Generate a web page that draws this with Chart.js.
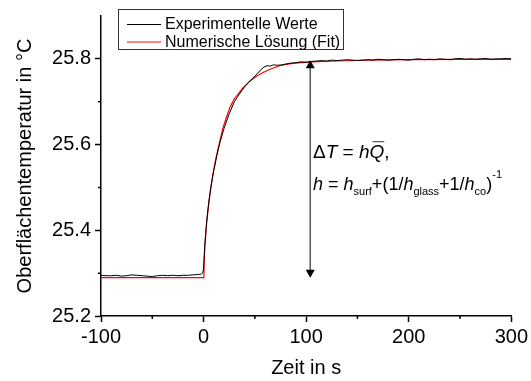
<!DOCTYPE html>
<html>
<head>
<meta charset="utf-8">
<script src="https://cdn.jsdelivr.net/npm/chart.js@4/dist/chart.umd.min.js"></script>
<style>
  html, body { margin: 0; padding: 0; background: #fff; }
  canvas { display: block; }
</style>
</head>
<body>
<canvas id="tempChart" width="531" height="381"></canvas>
<script>
const expTime = [-100, -95, -90, -85, -80, -75, -70, -65, -60, -55, -50, -45, -40, -35, -30, -25, -20, -15, -10, -5,
  -2, -1, 0, 1, 2, 3, 5, 7, 10, 13, 16, 20, 25, 30, 35, 40, 45, 50, 53, 56, 59, 62, 65, 68, 72, 76, 80, 85, 90, 95, 100,
  105, 110, 115, 120, 125, 130, 135, 140, 145, 150, 155, 160, 165, 170, 175, 180, 185, 190, 195, 200,
  205, 210, 215, 220, 225, 230, 235, 240, 245, 250, 255, 260, 265, 270, 275, 280, 285, 290, 295, 300];
const expTemp = [25.295, 25.294, 25.294, 25.295, 25.293, 25.294, 25.296, 25.295, 25.294, 25.293, 25.292, 25.294, 25.295, 25.294, 25.295, 25.294, 25.295, 25.295, 25.296, 25.297,
  25.298, 25.300, 25.31, 25.36, 25.39, 25.42, 25.465, 25.50, 25.54, 25.575, 25.605, 25.638, 25.672, 25.70, 25.718, 25.735, 25.748, 25.760, 25.767, 25.775, 25.781, 25.784, 25.783, 25.786, 25.785, 25.786, 25.788, 25.790, 25.791, 25.793, 25.792,
  25.794, 25.795, 25.796, 25.795, 25.797, 25.796, 25.797, 25.798, 25.797, 25.796, 25.797, 25.798, 25.797, 25.799, 25.798, 25.797, 25.798, 25.799, 25.798, 25.797,
  25.799, 25.800, 25.798, 25.799, 25.798, 25.800, 25.799, 25.798, 25.800, 25.801, 25.799, 25.800, 25.799, 25.800, 25.801, 25.799, 25.800, 25.800, 25.801, 25.800];

const fitTime = [-100, 0.3, 0.6, 1.5, 2.6, 4, 6, 9, 12, 15, 18.7, 22, 26, 30, 38, 45, 52, 58, 66, 74, 85, 95, 106, 130, 160, 200, 250, 300];
const fitTemp = [25.2895, 25.2895, 25.33, 25.37, 25.407, 25.44, 25.48, 25.53, 25.567, 25.60, 25.637, 25.662, 25.688, 25.707, 25.731, 25.748, 25.760, 25.768, 25.777, 25.784, 25.789, 25.791, 25.793, 25.795, 25.797, 25.798, 25.799, 25.799];

const seriesLabels = ["Experimentelle Werte", "Numerische Lösung (Fit)"];
const seriesColors = ["#000000", "#ff0000"];

const xTicks = [-100, 0, 100, 200, 300];
const yTicks = [25.2, 25.4, 25.6, 25.8];

// ΔT arrow: time and both ends
const arrowTime = 104;
const arrowTop = 25.797;
const arrowBottom = 25.289;

const FONT = "'Liberation Sans', Arial, sans-serif";

// ================================
// text made of runs (italic, sub, sup, overbar)
// ================================
function drawRuns(ctx, x, y, runs, baseSize) {
  runs.forEach((r) => {
    const size = r.size || baseSize;
    ctx.font = (r.italic ? "italic " : "") + size + "px " + FONT;
    const w = ctx.measureText(r.text).width;
    ctx.fillText(r.text, x, y + (r.dy || 0));
    if (r.bar) {
      ctx.beginPath();
      ctx.lineWidth = 1.2;
      ctx.moveTo(x + 3, y - size * 0.86);
      ctx.lineTo(x + w, y - size * 0.86);
      ctx.stroke();
    }
    x += w;
  });
}

// ================================
// plugin: minor ticks, legend, arrow, formula
// ================================
const extrasPlugin = {
  id: "extras",
  afterDraw(chart) {
    const ctx = chart.ctx;
    const xs = chart.scales.x;
    const ys = chart.scales.y;
    ctx.save();
    ctx.strokeStyle = "#000";
    ctx.fillStyle = "#000";

    // minor ticks
    ctx.lineWidth = 1.5;
    ctx.beginPath();
    [-50, 50, 150, 250].forEach((v) => {
      const px = xs.getPixelForValue(v);
      ctx.moveTo(px, xs.top);
      ctx.lineTo(px, xs.top + 3);
    });
    [25.3, 25.5, 25.7].forEach((v) => {
      const py = ys.getPixelForValue(v);
      ctx.moveTo(ys.right - 3, py);
      ctx.lineTo(ys.right, py);
    });
    ctx.stroke();

    // legend box
    ctx.lineWidth = 1;
    ctx.strokeStyle = "#333";
    ctx.strokeRect(118.5, 9.5, 225, 40);
    ctx.font = "16px " + FONT;
    ctx.textBaseline = "middle";
    seriesLabels.forEach((lab, i) => {
      const ly = 24 + i * 17.5;
      ctx.strokeStyle = seriesColors[i];
      ctx.lineWidth = 1;
      ctx.beginPath();
      ctx.moveTo(127, ly + 0.5);
      ctx.lineTo(161, ly + 0.5);
      ctx.stroke();
      ctx.fillStyle = "#000";
      ctx.fillText(lab, 165, ly + 1);
    });

    // arrow
    const ax = xs.getPixelForValue(arrowTime);
    const at = ys.getPixelForValue(arrowTop);
    const ab = ys.getPixelForValue(arrowBottom);
    ctx.strokeStyle = "#555";
    ctx.lineWidth = 1.5;
    ctx.beginPath();
    ctx.moveTo(ax, at + 6);
    ctx.lineTo(ax, ab - 6);
    ctx.stroke();
    ctx.fillStyle = "#000";
    ctx.beginPath();
    ctx.moveTo(ax, at);
    ctx.lineTo(ax - 4.5, at + 8);
    ctx.lineTo(ax + 4.5, at + 8);
    ctx.closePath();
    ctx.fill();
    ctx.beginPath();
    ctx.moveTo(ax, ab);
    ctx.lineTo(ax - 4.5, ab - 8);
    ctx.lineTo(ax + 4.5, ab - 8);
    ctx.closePath();
    ctx.fill();

    // formula
    ctx.textBaseline = "alphabetic";
    drawRuns(ctx, 313, 158, [
      { text: "\u0394" },
      { text: "T", italic: true },
      { text: " = " },
      { text: "h", italic: true },
      { text: "Q", italic: true, bar: true },
      { text: "," },
    ], 19);
    drawRuns(ctx, 313, 190, [
      { text: "h", italic: true },
      { text: " = " },
      { text: "h", italic: true },
      { text: "surf", size: 11, dy: 5 },
      { text: "+(1/" },
      { text: "h", italic: true },
      { text: "glass", size: 11, dy: 5 },
      { text: "+1/" },
      { text: "h", italic: true },
      { text: "co", size: 11, dy: 5 },
      { text: ")" },
      { text: "-1", size: 11, dy: -12 },
    ], 18);
    ctx.restore();
  },
};

// ================================
// chart
// ================================
const toPoints = (xsArr, ysArr) => xsArr.map((t, i) => ({ x: t, y: ysArr[i] }));

const ctx = document.getElementById("tempChart").getContext("2d");
new Chart(ctx, {
  type: "line",
  data: {
    datasets: [
      {
        label: seriesLabels[0],
        data: toPoints(expTime, expTemp),
        borderColor: seriesColors[0],
        borderWidth: 1,
        pointRadius: 0,
        tension: 0,
      },
      {
        label: seriesLabels[1],
        data: toPoints(fitTime, fitTemp),
        borderColor: seriesColors[1],
        borderWidth: 1.2,
        pointRadius: 0,
        tension: 0,
      },
    ],
  },
  options: {
    responsive: false,
    animation: false,
    devicePixelRatio: 1,
    layout: { padding: { top: 13, right: 18, bottom: 0, left: 0 } },
    plugins: {
      legend: { display: false },
      tooltip: { enabled: false },
    },
    scales: {
      x: {
        type: "linear",
        min: -100,
        max: 300,
        afterFit: (s) => { s.height = 65; },
        ticks: {
          stepSize: 50,
          autoSkip: false,
          maxRotation: 0,
          padding: 3,
          color: "#000",
          font: { family: FONT, size: 20 },
          callback: (v) => (xTicks.includes(v) ? String(v) : ""),
        },
        grid: {
          drawOnChartArea: false,
          drawTicks: true,
          tickLength: 6,
          tickWidth: 1.5,
          tickColor: (c) => (c.tick && xTicks.includes(c.tick.value) ? "#000" : "rgba(0,0,0,0)"),
        },
        border: { display: true, color: "#000", width: 1.5 },
        title: {
          display: true,
          text: "Zeit in s",
          color: "#000",
          font: { family: FONT, size: 20 },
          padding: { top: 0, bottom: 1 },
        },
      },
      y: {
        min: 25.2,
        max: 25.9,
        afterFit: (s) => { s.width = 101; },
        ticks: {
          stepSize: 0.1,
          autoSkip: false,
          padding: 4,
          color: "#000",
          font: { family: FONT, size: 20 },
          callback: (v) => (yTicks.some((t) => Math.abs(t - v) < 1e-6) ? v.toFixed(1) : ""),
        },
        grid: {
          drawOnChartArea: false,
          drawTicks: true,
          tickLength: 6,
          tickWidth: 1.5,
          tickColor: (c) =>
            c.tick && yTicks.some((t) => Math.abs(t - c.tick.value) < 1e-6) ? "#000" : "rgba(0,0,0,0)",
        },
        border: { display: true, color: "#000", width: 1.5 },
        title: {
          display: true,
          text: "Oberflächentemperatur in °C",
          color: "#000",
          font: { family: FONT, size: 20 },
          padding: { top: 13, bottom: 0 },
        },
      },
    },
  },
  plugins: [extrasPlugin],
});
</script>
</body>
</html>
